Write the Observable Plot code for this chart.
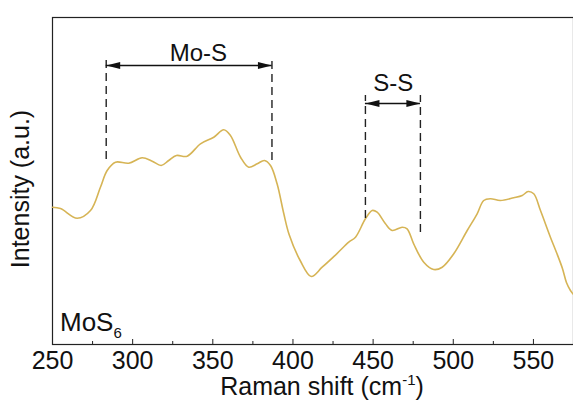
<!DOCTYPE html>
<html>
<head>
<meta charset="utf-8">
<script src="https://cdn.jsdelivr.net/npm/d3@7"></script>
<script src="https://cdn.jsdelivr.net/npm/@observablehq/plot@0.6"></script>
<style>
  html, body { margin: 0; padding: 0; background: #fff; }
  svg { display: block; }
</style>
</head>
<body>
<div id="chart"></div>
<script>
// Raman spectrum of MoS6 (arbitrary intensity units)
const wavenumber = [250, 255, 265.4, 273.7, 279.9, 284.1, 289.3, 297.6, 305.9, 312.2, 317.8, 322.5, 327.3, 334.0, 342.3, 350.6, 356.8, 361.0, 367.3, 372.4, 377.7, 382.2, 386.0, 390.1, 394.3, 397.6, 404.5, 411.4, 418.2, 427.3, 434.8, 439.0, 445.2, 449.4, 452.5, 457.7, 461.9, 468.1, 471.2, 475.3, 481.6, 487.8, 493.1, 500.3, 508.7, 514.9, 519.0, 523.2, 529.4, 537.7, 543.0, 546.7, 550.2, 554.4, 560.6, 564.4, 568.1, 570.6, 573.1, 575];
const intensity = [137.3, 136, 126.3, 134, 157.3, 174, 182.3, 181.3, 186.7, 183.3, 179, 184, 189, 188.3, 200.7, 207.3, 214.7, 209, 187.3, 177.3, 180.7, 184, 179, 160.7, 130.7, 110, 84, 68, 77.3, 90.7, 102.3, 107.3, 125.7, 134, 132.3, 120.7, 114, 117.3, 115.7, 100.7, 82.3, 75, 77.3, 90.7, 114, 130.7, 144, 145.7, 144, 146.7, 149, 153, 150.7, 134, 107.3, 92, 76, 62, 54, 50];

const majorTicks = [250, 300, 350, 400, 450, 500, 550];
const minorTicks = [275, 325, 375, 425, 475, 525, 575];

// band annotations
const bandLabels = ["Mo-S", "S-S"];
const bandStart = [283.5, 445.2];
const bandEnd = [386.9, 479.5];
const bandArrowY = [279, 241];
const bandDashTop = [287, 249];
const bandDashBottomStart = [185, 126];
const bandDashBottomEnd = [184, 112];
const bandLabelX = [341, 462.5];
const bandLabelY = [284, 253.5];

const spectrum = wavenumber.map((x, i) => ({x, y: intensity[i]}));
const bands = bandLabels.map((label, i) => ({
  label, x1: bandStart[i], x2: bandEnd[i], ya: bandArrowY[i],
  top: bandDashTop[i], b1: bandDashBottomStart[i], b2: bandDashBottomEnd[i],
  lx: bandLabelX[i], ly: bandLabelY[i]
}));
const dashes = bands.flatMap(b => [{x: b.x1, y1: b.b1, y2: b.top}, {x: b.x2, y1: b.b2, y2: b.top}]);
const heads = bands.flatMap(b => [{x: b.x1, y: b.ya, rot: -90}, {x: b.x2, y: b.ya, rot: 90}]);

const W = 573, H = 401, mL = 52, mT = 17, mB = 57, mR = 0;
const font = "'Liberation Sans', Arial, sans-serif";

const svg = Plot.plot({
  width: W, height: H,
  marginLeft: mL, marginRight: mR, marginTop: mT, marginBottom: mB,
  style: {fontFamily: font, fontSize: "25px", color: "#111", background: "#fff", overflow: "visible"},
  x: {domain: [250, 575]},
  y: {domain: [0, 327], axis: null},
  marks: [
    Plot.frame({stroke: "#222", strokeWidth: 1.2}),
    Plot.axisX({ticks: majorTicks, tickSize: 0, tickPadding: 7, label: null, fontSize: 25}),
    Plot.axisX({ticks: majorTicks, tickSize: -5, tickFormat: () => "", label: null, stroke: "#222"}),
    Plot.axisX({ticks: minorTicks, tickSize: -3, tickFormat: () => "", label: null, stroke: "#222"}),
    Plot.line(spectrum, {x: "x", y: "y", stroke: "#d6b455", strokeWidth: 1.6, curve: "catmull-rom"}),
    Plot.ruleX(dashes, {x: "x", y1: "y1", y2: "y2", stroke: "#222", strokeWidth: 1.4, strokeDasharray: "8,5"}),
    Plot.ruleY(bands, {y: "ya", x1: "x1", x2: "x2", stroke: "#111", strokeWidth: 1.3}),
    Plot.vector(heads, {x: "x", y: "y", rotate: "rot", length: 14, r: 3.5, anchor: "end", shape: "spike", fill: "#111", stroke: "none"}),
    Plot.text(bands, {x: "lx", y: "ly", text: "label", lineAnchor: "bottom", fontSize: 24, fill: "#111"})
  ]
});

const s = d3.select(svg);
// y axis label
s.append("text")
  .attr("transform", "translate(29,189) rotate(-90)")
  .attr("text-anchor", "middle")
  .attr("font-family", font).attr("font-size", 25).attr("fill", "#111")
  .text("Intensity (a.u.)");
// x axis label with superscript
const xl = s.append("text")
  .attr("x", 322).attr("y", 395)
  .attr("text-anchor", "middle")
  .attr("font-family", font).attr("font-size", 25).attr("fill", "#111");
xl.append("tspan").text("Raman shift (cm");
xl.append("tspan").attr("font-size", 15).attr("dy", -10).text("-1");
xl.append("tspan").attr("dy", 10).text(")");
// sample label with subscript
const ml = s.append("text")
  .attr("x", 60).attr("y", 331)
  .attr("text-anchor", "start")
  .attr("font-family", font).attr("font-size", 26).attr("fill", "#111");
ml.append("tspan").text("MoS");
ml.append("tspan").attr("font-size", 15).attr("dy", 7).text("6");

document.getElementById("chart").appendChild(svg);
</script>
</body>
</html>
